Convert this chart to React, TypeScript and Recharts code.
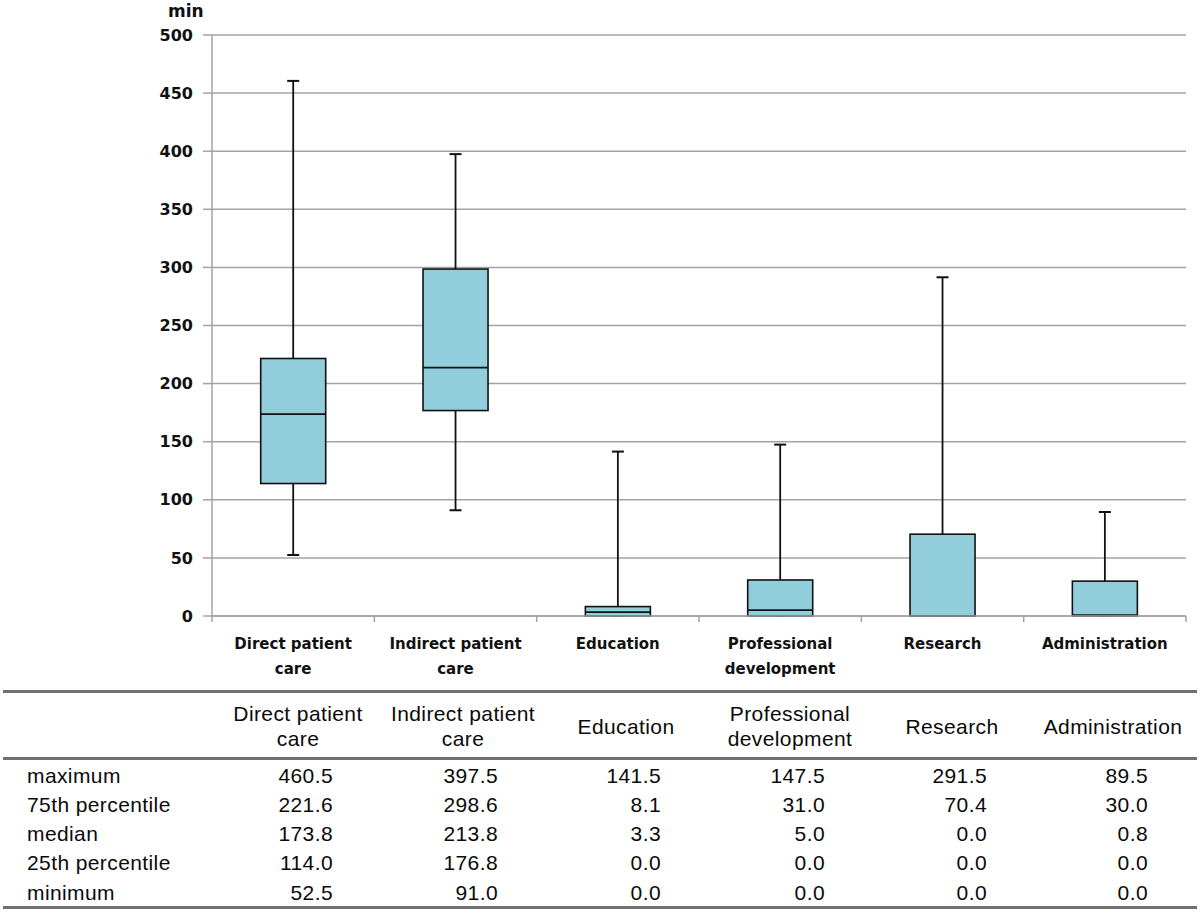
import React from 'react';
import { ComposedChart, Bar, XAxis, YAxis, CartesianGrid } from 'recharts';

const categories = ['Direct patient care', 'Indirect patient care', 'Education', 'Professional development', 'Research', 'Administration'];
const axisLabelLines = [['Direct patient', 'care'], ['Indirect patient', 'care'], ['Education'], ['Professional', 'development'], ['Research'], ['Administration']];
const maximum = [460.5, 397.5, 141.5, 147.5, 291.5, 89.5];
const q3 = [221.6, 298.6, 8.1, 31.0, 70.4, 30.0];
const median = [173.8, 213.8, 3.3, 5.0, 0.0, 0.8];
const q1 = [114.0, 176.8, 0.0, 0.0, 0.0, 0.0];
const minimum = [52.5, 91.0, 0.0, 0.0, 0.0, 0.0];
const yTicks = [0, 50, 100, 150, 200, 250, 300, 350, 400, 450, 500];
const rowLabels = ['maximum', '75th percentile', 'median', '25th percentile', 'minimum'];
const rowSeries = [maximum, q3, median, q1, minimum];

const data = categories.map((c, i) => ({
  name: c,
  min: minimum[i],
  q1: q1[i],
  median: median[i],
  q3: q3[i],
  max: maximum[i],
}));

const BOX_FILL = '#92CDDC';
const INK = '#111';
const GRID = '#a3a3a3';

const BoxShape = (props: any) => {
  const { x, y, width, height, payload } = props;
  const top = Math.min(y, y + height);
  const bottom = Math.max(y, y + height);
  const lo = payload.min;
  const hi = payload.max;
  const py = (v: number) => (hi === lo ? bottom : bottom - ((v - lo) / (hi - lo)) * (bottom - top));
  const cx = x + width / 2;
  const cap = 6;
  const sw = 1.8;
  return (
    <g>
      <line x1={cx} x2={cx} y1={py(hi)} y2={py(payload.q3)} stroke={INK} strokeWidth={sw} />
      <line x1={cx} x2={cx} y1={py(payload.q1)} y2={py(lo)} stroke={INK} strokeWidth={sw} />
      <line x1={cx - cap} x2={cx + cap} y1={py(hi)} y2={py(hi)} stroke={INK} strokeWidth={2} />
      <line x1={cx - cap} x2={cx + cap} y1={py(lo)} y2={py(lo)} stroke={INK} strokeWidth={2} />
      <rect x={x} y={py(payload.q3)} width={width} height={Math.max(0, py(payload.q1) - py(payload.q3))} fill={BOX_FILL} stroke={INK} strokeWidth={1.6} />
      <line x1={x} x2={x + width} y1={py(payload.median)} y2={py(payload.median)} stroke={INK} strokeWidth={1.7} />
    </g>
  );
};

const XTick = (props: any) => {
  const { x, y, payload, index } = props;
  const half = payload && payload.offset ? payload.offset : 974 / 12;
  const lines = axisLabelLines[index] || [String(payload.value)];
  const isLast = index === categories.length - 1;
  return (
    <g>
      <line x1={x - half} x2={x - half} y1={y} y2={y + 6} stroke={GRID} strokeWidth={1.5} />
      {isLast && <line x1={x + half} x2={x + half} y1={y} y2={y + 6} stroke={GRID} strokeWidth={1.5} />}
      {lines.map((l, k) => (
        <text key={k} x={x} y={y + 33 + k * 25} textAnchor="middle" fontFamily="DejaVu Sans" fontWeight="bold" fontSize={15} fill={INK}>
          {l}
        </text>
      ))}
    </g>
  );
};

const headerLines = axisLabelLines;
const colCenters = [298, 463, 626, 790, 952, 1113];
const rowCenters = [776, 805, 834, 863, 893];
const tableFont: React.CSSProperties = {
  fontFamily: '"Liberation Sans", Arial, sans-serif',
  fontSize: 21,
  letterSpacing: 0.4,
  color: '#0a0a0a',
  position: 'absolute',
  lineHeight: '24px',
  whiteSpace: 'nowrap',
};

export default function App() {
  return (
    <div style={{ position: 'absolute', left: 0, top: 0, width: 1200, height: 913, background: '#fff', overflow: 'hidden' }}>
      <div style={{ position: 'absolute', left: 168, top: 0, fontFamily: 'DejaVu Sans', fontWeight: 'bold', fontSize: 17, lineHeight: '22px', color: INK }}>min</div>
      <ComposedChart width={1200} height={690} data={data} margin={{ top: 35, right: 14, bottom: 14, left: 152 }} barCategoryGap="30%">
        <CartesianGrid horizontal vertical={false} stroke={GRID} strokeWidth={1.5} />
        <YAxis
          width={60}
          domain={[0, 500]}
          ticks={yTicks}
          interval={0}
          tickSize={9}
          tickMargin={10}
          stroke={GRID}
          axisLine={{ stroke: GRID, strokeWidth: 1.5 }}
          tickLine={{ stroke: GRID, strokeWidth: 1.5 }}
          tick={{ fontFamily: 'DejaVu Sans', fontWeight: 'bold', fontSize: 16, fill: INK }}
        />
        <XAxis
          dataKey="name"
          height={60}
          interval={0}
          tickSize={0}
          tickMargin={0}
          tickLine={false}
          axisLine={{ stroke: GRID, strokeWidth: 1.5 }}
          tick={<XTick />}
        />
        <Bar dataKey={(d: any) => [d.min, d.max]} shape={<BoxShape />} isAnimationActive={false} />
      </ComposedChart>

      <div style={{ position: 'absolute', left: 3, top: 690, width: 1194, height: 3, background: '#707070' }} />
      <div style={{ position: 'absolute', left: 3, top: 757, width: 1194, height: 3, background: '#707070' }} />
      <div style={{ position: 'absolute', left: 3, top: 906, width: 1194, height: 3, background: '#707070' }} />

      {headerLines.map((lines, i) => {
        const top = lines.length === 2 ? 701 : 714;
        return (
          <div key={'h' + i} style={{ ...tableFont, left: colCenters[i] - 100, width: 200, top, textAlign: 'center', lineHeight: '25px' }}>
            {lines.map((l, k) => (
              <div key={k}>{l}</div>
            ))}
          </div>
        );
      })}

      {rowLabels.map((r, j) => (
        <div key={'r' + j} style={{ ...tableFont, left: 27, top: rowCenters[j] - 12 }}>
          {r}
        </div>
      ))}

      {rowSeries.map((series, j) =>
        series.map((v, i) => (
          <div key={'v' + j + '-' + i} style={{ ...tableFont, left: colCenters[i] + 35 - 120, width: 120, top: rowCenters[j] - 12, textAlign: 'right' }}>
            {v.toFixed(1)}
          </div>
        ))
      )}
    </div>
  );
}
